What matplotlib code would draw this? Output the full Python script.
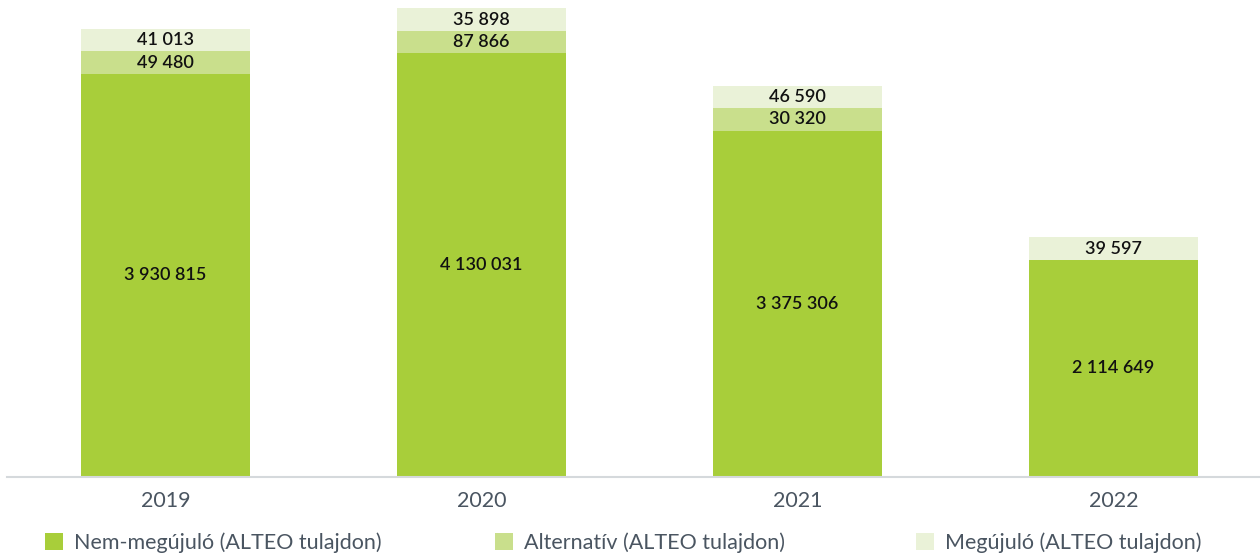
import matplotlib
matplotlib.use("Agg")
import matplotlib.pyplot as plt
from matplotlib.patches import Patch
import numpy as np

years = ["2019", "2020", "2021", "2022"]
non_renewable = [3930815, 4130031, 3375306, 2114649]
alternative = [49480, 87866, 30320, 0]
renewable = [41013, 35898, 46590, 39597]
series_names = ["Nem-megújuló (ALTEO tulajdon)", "Alternatív (ALTEO tulajdon)", "Megújuló (ALTEO tulajdon)"]

colors = ["#A8CE3A", "#C9DF8C", "#EAF2D8"]
text_col = "#4A5561"
# small segments would be invisible at true scale; draw them with a minimum visible height
min_visible = 220000

def fmt(v):
    return f"{v:,}".replace(",", " ")

fig = plt.figure(figsize=(12.6, 5.54), dpi=100)
ax = fig.add_axes([7/1260, 77.3/554, 1253/1260, 476.7/554])

x = np.arange(len(years))
w = 0.535
nr = np.array(non_renewable, dtype=float)
al = np.array(alternative, dtype=float)
rn = np.array(renewable, dtype=float)
al_h = np.where(al > 0, np.maximum(al, min_visible), 0)
rn_h = np.where(rn > 0, np.maximum(rn, min_visible), 0)

ax.bar(x, nr, w, color=colors[0], linewidth=0)
ax.bar(x, al_h, w, bottom=nr, color=colors[1], linewidth=0)
ax.bar(x, rn_h, w, bottom=nr + al_h, color=colors[2], linewidth=0)

lab_kw = dict(ha="center", va="center", fontsize=13, fontweight="semibold",
              family=["Lato", "DejaVu Sans"], color="#111111")
for i in range(len(years)):
    ax.text(x[i], nr[i] / 2, fmt(non_renewable[i]), **lab_kw)
    if al[i] > 0:
        ax.text(x[i], nr[i] + al_h[i] / 2, fmt(alternative[i]), **lab_kw)
    if rn[i] > 0:
        ax.text(x[i], nr[i] + al_h[i] + rn_h[i] / 2, fmt(renewable[i]), **lab_kw)

ax.set_xlim(-0.5016, 3.4636)
ax.set_ylim(0, 476.7 / 102.5 * 1e6)
for s in ["top", "right", "left"]:
    ax.spines[s].set_visible(False)
ax.spines["bottom"].set_color("#D5D9DC")
ax.spines["bottom"].set_linewidth(1.5)
ax.set_yticks([])
ax.set_xticks(x)
ax.set_xticklabels(years, fontsize=15.5, color=text_col, family=["Lato", "DejaVu Sans"], fontweight="normal")
ax.tick_params(axis="x", length=0, pad=10)

leg_x = [45/1260, 495/1260, 916/1260]
for name, c, lx in zip(series_names, colors, leg_x):
    fig.legend(handles=[Patch(facecolor=c, edgecolor="none")], labels=[name],
               loc="center left", bbox_to_anchor=(lx, 11/554), frameon=False,
               handlelength=0.85, handleheight=0.85, handletextpad=0.5,
               borderaxespad=0, borderpad=0,
               prop=dict(family=["Lato", "DejaVu Sans"], size=15.5, weight="normal"),
               labelcolor=text_col)

fig.savefig("out.png", dpi=100)
